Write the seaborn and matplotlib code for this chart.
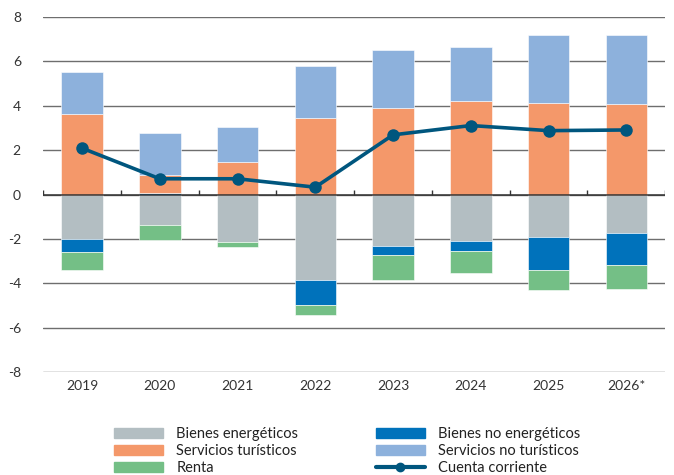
import numpy as np
import pandas as pd
import matplotlib
matplotlib.use("Agg")
import matplotlib.pyplot as plt
from matplotlib.patches import Patch
from matplotlib.lines import Line2D
import seaborn as sns

# ==========================================
# DATA (% del PIB)
# ==========================================
years = ["2019", "2020", "2021", "2022", "2023", "2024", "2025", "2026*"]
bienes_energeticos = [-2.01, -1.37, -2.16, -3.87, -2.34, -2.09, -1.92, -1.74]
bienes_no_energeticos = [-0.59, 0.07, 0.0, -1.13, -0.41, -0.46, -1.50, -1.43]
renta = [-0.82, -0.70, -0.21, -0.45, -1.09, -0.99, -0.90, -1.09]
servicios_turisticos = [3.63, 0.79, 1.46, 3.45, 3.89, 4.23, 4.14, 4.08]
servicios_no_turisticos = [1.88, 1.92, 1.60, 2.36, 2.63, 2.41, 3.04, 3.10]
cuenta_corriente = [2.09, 0.71, 0.71, 0.33, 2.69, 3.11, 2.88, 2.91]

series = {
    "Bienes energéticos": bienes_energeticos,
    "Bienes no energéticos": bienes_no_energeticos,
    "Renta": renta,
    "Servicios turísticos": servicios_turisticos,
    "Servicios no turísticos": servicios_no_turisticos,
}
colors = {
    "Bienes energéticos": "#b3bec2",
    "Bienes no energéticos": "#0072bb",
    "Renta": "#74bf86",
    "Servicios turísticos": "#f4986a",
    "Servicios no turísticos": "#8db1dc",
}
line_color = "#00567e"

df = pd.DataFrame(series)
df["year"] = years

sns.set_style("white")
plt.rcParams["font.family"] = ["Lato", "DejaVu Sans"]
plt.rcParams["axes.unicode_minus"] = False

fig = plt.figure(figsize=(6.74, 4.75), dpi=100)
ax = fig.add_axes([0.064, 0.217, 0.923, 0.747])

# stack positives upwards and negatives downwards
order = ["Bienes energéticos", "Bienes no energéticos", "Renta",
         "Servicios turísticos", "Servicios no turísticos"]
pos_base = np.zeros(len(years))
neg_base = np.zeros(len(years))
for name in order:
    vals = np.array(series[name])
    bottom = np.where(vals >= 0, pos_base, neg_base)
    sns.barplot(x=df["year"], y=vals, bottom=bottom, color=colors[name],
                width=0.535, edgecolor="white", linewidth=0.4,
                saturation=1, ax=ax, zorder=3)
    pos_base = pos_base + np.where(vals >= 0, vals, 0)
    neg_base = neg_base + np.where(vals < 0, vals, 0)

sns.lineplot(x=np.arange(len(years)), y=cuenta_corriente, color=line_color,
             linewidth=2.6, marker="o", markersize=9, markeredgewidth=0,
             ax=ax, zorder=5)

ax.set_ylim(-8, 8)
ax.set_xlim(-0.5, len(years) - 0.5)
ax.set_yticks(np.arange(-8, 9, 2))
ax.yaxis.grid(True, color="#6e6e6e", linewidth=1.0)
ax.set_axisbelow(True)
ax.axhline(0, color="#333333", linewidth=1.1, zorder=4)
for s in ax.spines.values():
    s.set_visible(False)
ax.set_xlabel("")
ax.set_ylabel("")
ax.tick_params(axis="y", length=0, pad=16, labelsize=10, labelcolor="#333333")
ax.tick_params(axis="x", length=0, pad=6, labelsize=10, labelcolor="#333333")
for lbl in ax.get_yticklabels():
    lbl.set_horizontalalignment("right")

# small category dividers on the zero line, pointing up
bounds = np.arange(len(years) + 1) - 0.5
ax.vlines(bounds, 0, 0.22, color="#333333", linewidth=1.0, zorder=4)

handles = [
    Patch(color=colors["Bienes energéticos"], label="Bienes energéticos"),
    Patch(color=colors["Servicios turísticos"], label="Servicios turísticos"),
    Patch(color=colors["Renta"], label="Renta"),
    Patch(color=colors["Bienes no energéticos"], label="Bienes no energéticos"),
    Patch(color=colors["Servicios no turísticos"], label="Servicios no turísticos"),
    Line2D([0], [0], color=line_color, linewidth=3, marker="o", markersize=6,
           label="Cuenta corriente"),
]
fig.legend(handles=handles, ncol=2, loc="center", bbox_to_anchor=(0.515, 0.05),
           frameon=False, fontsize=10.5, handlelength=3.4, handleheight=0.65,
           handletextpad=0.9, columnspacing=5.3, labelspacing=0.2,
           labelcolor="#222222")

fig.savefig("out.png", dpi=100)
